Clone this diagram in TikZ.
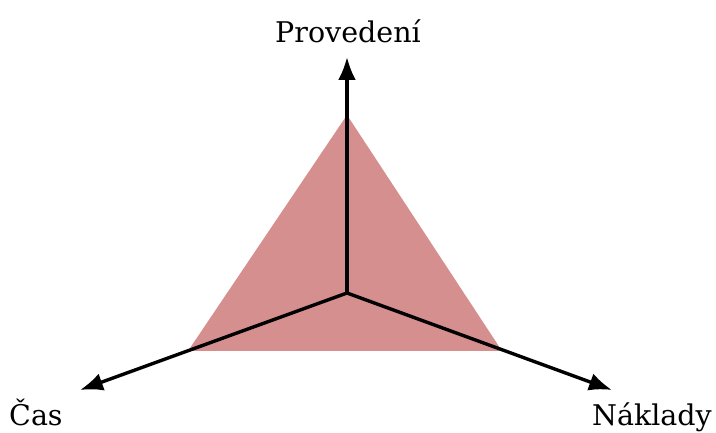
\documentclass[tikz,border=0pt]{standalone}
\usepackage{fontspec}
\setmainfont{DejaVu Serif}
\usetikzlibrary{arrows.meta}
\definecolor{tri}{RGB}{214,143,143}
\tikzset{
  axis/.style={line width=3.4pt,-{Latex[length=23pt,width=18pt]}},
  lab/.style={inner sep=0pt,font=\fontsize{28.5}{32}\selectfont}
}
\begin{document}
\begin{tikzpicture}[x=1pt,y=1pt]
\useasboundingbox (0,0) rectangle (716,433);
\fill[tri] (347,318) -- (188,82) -- (502,82) -- cycle;
\coordinate (o) at (347,140);
\coordinate (up) at (347,376);
\coordinate (left) at (80,43);
\coordinate (right) at (612,43);
\draw[axis] (o) -- (up);
\draw[axis] (o) -- (left);
\draw[axis] (o) -- (right);
\node[lab,anchor=base] (prov) at (348,390) {Provedení};
\node[lab,anchor=base west] (cas) at (9,7) {Čas};
\node[lab,anchor=base east] (nakl) at (712,7) {Náklady};
\end{tikzpicture}
\end{document}
